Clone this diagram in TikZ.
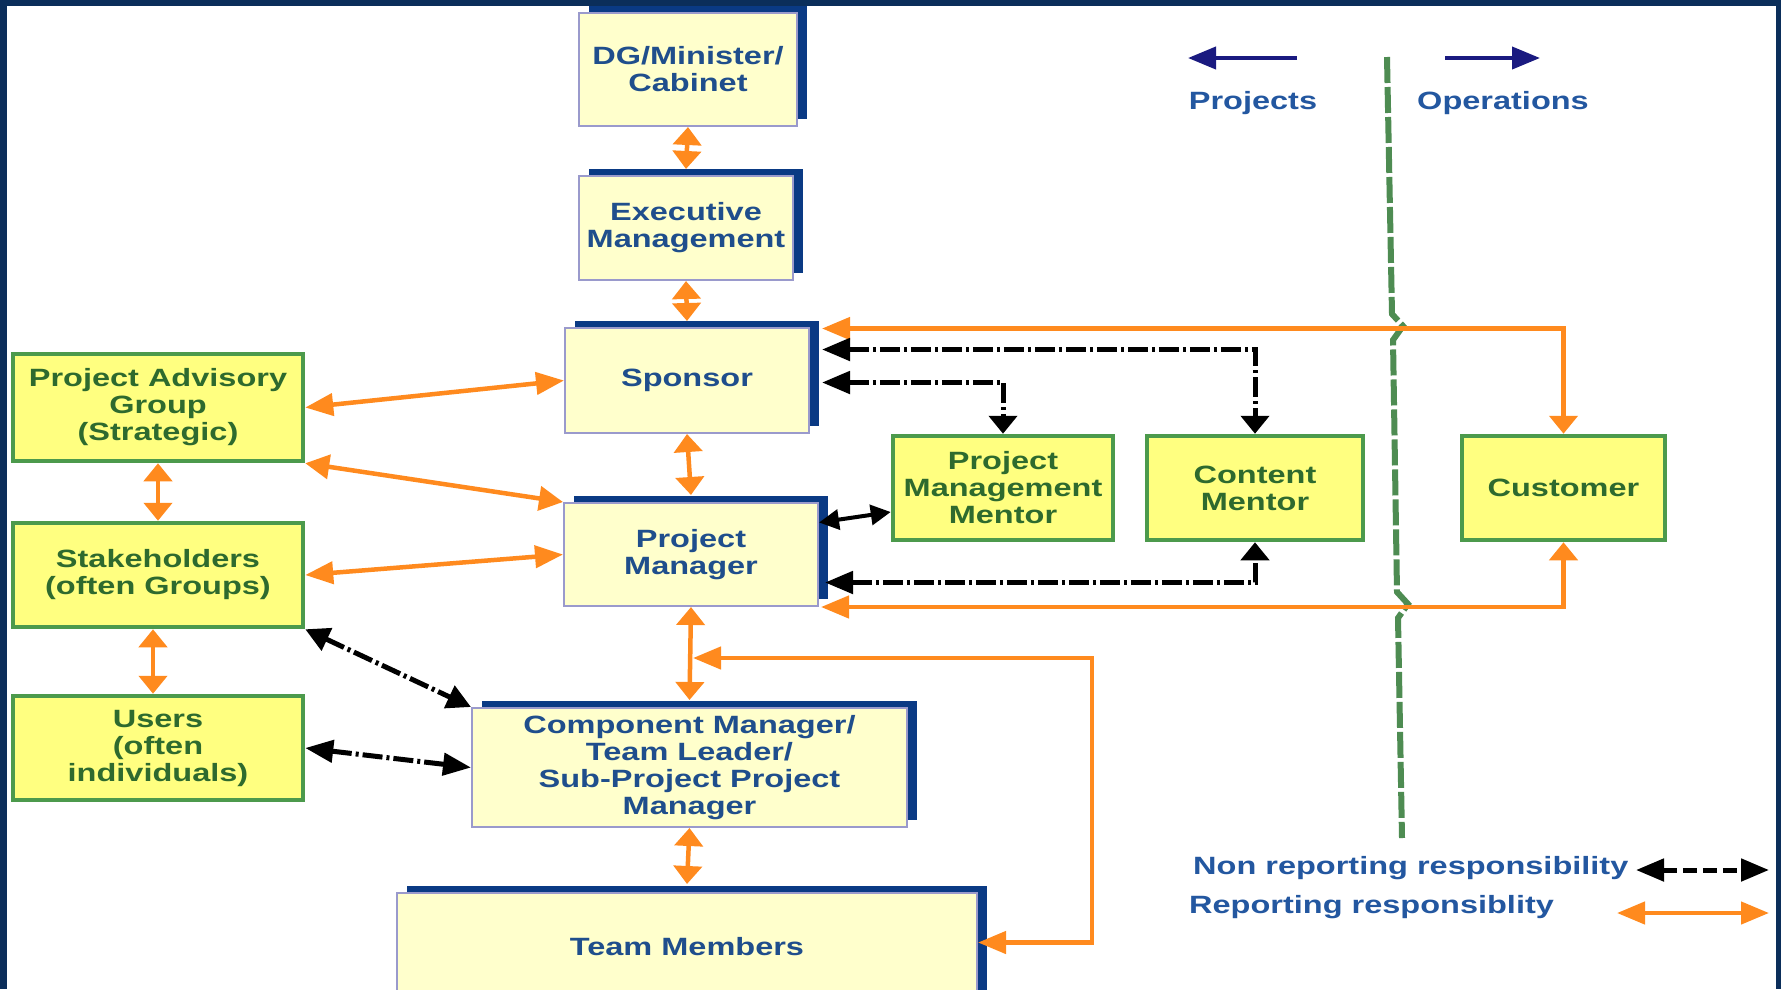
\documentclass[tikz,border=0pt]{standalone}
\usepackage{fontspec}
\setmainfont{Liberation Sans}[FakeStretch=1.3]
\usetikzlibrary{arrows.meta, shadows}

\definecolor{framenavy}{HTML}{0B2E5A}
\definecolor{paleyellow}{HTML}{FFFFCC}
\definecolor{lavender}{HTML}{9A9ACC}
\definecolor{shadowblue}{HTML}{0A3A84}
\definecolor{boxyellow}{HTML}{FFFF80}
\definecolor{boxgreen}{HTML}{4C9A4C}
\definecolor{textblue}{HTML}{1F4E8C}
\definecolor{textgreen}{HTML}{2E6A2E}
\definecolor{legendblue}{HTML}{2357A0}
\definecolor{reportorange}{HTML}{FF8A1E}
\definecolor{dividergreen}{HTML}{4E8C52}
\definecolor{legendnavy}{HTML}{1A1A80}

\tikzset{
	htip/.tip={Triangle[length=28pt,width=22pt]},
	vtip/.tip={Triangle[length=18pt,width=28pt]},
	dtip/.tip={Triangle[length=24pt,width=24pt]},
	stip/.tip={Triangle[length=20pt,width=20pt]},
	boxfont/.style={font=\fontsize{25}{27}\selectfont\bfseries},
	rolebox/.style={boxfont, draw=lavender, line width=2pt, fill=paleyellow, text=textblue, align=center, inner sep=0pt,
		drop shadow={shadow xshift=10pt, shadow yshift=7pt, opacity=1, fill=shadowblue}},
	groupbox/.style={boxfont, draw=boxgreen, line width=4.5pt, fill=boxyellow, text=textgreen, align=center, inner sep=0pt},
	legendtext/.style={boxfont, text=legendblue, inner sep=0pt},
	reporting/.style={draw=reportorange, line width=4.5pt},
	nonreporting/.style={draw=black, line width=5pt, dash pattern=on 20pt off 4pt on 3pt off 4pt},
}

\begin{document}
\begin{tikzpicture}[x=1pt, y=-1pt]
	\useasboundingbox (0,0) rectangle (1781,989);
	\fill[framenavy] (0,0) rectangle (1781,989);
	\fill[white] (7,6) rectangle (1776,989);

	\node[rolebox, minimum width=218pt, minimum height=113pt] (dg) at (688,69.5) {DG/Minister/\\Cabinet};
	\node[rolebox, minimum width=214pt, minimum height=104pt] (exec) at (686,228) {Executive\\Management};
	\node[rolebox, minimum width=244pt, minimum height=105pt] (sponsor) at (687,380.5) {Sponsor};
	\node[rolebox, minimum width=254pt, minimum height=103pt] (pm) at (691,554.5) {Project\\Manager};
	\node[rolebox, minimum width=435pt, minimum height=119pt] (cm) at (689.5,767.5) {Component Manager/\\Team Leader/\\Sub-Project Project\\Manager};
	\node[rolebox, minimum width=580pt, minimum height=107pt] (team) at (687,946.5) {Team Members};

	\node[groupbox, minimum width=290pt, minimum height=107pt] (pag) at (158,407.5) {Project Advisory\\Group\\(Strategic)};
	\node[groupbox, minimum width=290pt, minimum height=104pt] (stake) at (158,575) {Stakeholders\\(often Groups)};
	\node[groupbox, minimum width=290pt, minimum height=104pt] (users) at (158,748) {Users\\(often\\individuals)};
	\node[groupbox, minimum width=220pt, minimum height=104pt] (pmm) at (1003,488) {Project\\Management\\Mentor};
	\node[groupbox, minimum width=216pt, minimum height=104pt] (cmentor) at (1255,488) {Content\\Mentor};
	\node[groupbox, minimum width=203pt, minimum height=104pt] (cust) at (1563.5,488) {Customer};

	\coordinate (divtop) at (1387,57);
	\coordinate (divbottom) at (1402,838);
	\draw[dividergreen, line width=6pt, dash pattern=on 26pt off 4pt]
		(divtop) -- (1392,314) -- (1403,326) -- (1393,340) -- (1397,592) -- (1408,604) -- (1398,618) -- (divbottom);

	\draw[reporting, vtip-vtip] (dg.south) -- ([yshift=6pt]exec.north);
	\draw[reporting, vtip-vtip] (exec.south) -- ([yshift=6pt]sponsor.north);
	\draw[reporting, vtip-vtip] (sponsor.south) -- ([yshift=7pt]pm.north);
	\draw[reporting, vtip-vtip] (pm.south) -- ([yshift=7pt]cm.north);
	\draw[reporting, vtip-vtip] (cm.south) -- ([yshift=8pt]team.north);
	\draw[reporting, htip-htip] (pag.east) -- (sponsor.west);
	\draw[reporting, dtip-dtip] (pag.south east) -- (pm.north west);
	\draw[reporting, htip-htip] (stake.east) -- (pm.west);
	\draw[reporting, vtip-vtip] (pag.south) -- (stake.north);
	\draw[reporting, vtip-vtip] ([xshift=-5pt]stake.south) -- ([xshift=-5pt]users.north);
	\draw[reporting, htip-vtip] ([xshift=12pt,yshift=52pt]sponsor.east) -| (cust.north);
	\draw[reporting, htip-vtip] ([xshift=2pt]pm.south east) -| (cust.south);

	\coordinate (bend) at (1092,658);
	\coordinate (joint) at (693,658);
	\draw[reporting, htip-htip] ([yshift=4pt]team.east) -| (bend) -- (joint);

	\draw[nonreporting, dtip-dtip] (stake.south east) -- (cm.north west);
	\draw[nonreporting, htip-htip] (users.east) -- (cm.west);
	\draw[nonreporting, htip-vtip] ([xshift=12pt,yshift=-2pt]sponsor.east) -| (pmm.north);
	\draw[nonreporting, htip-vtip] ([xshift=12pt,yshift=31pt]sponsor.east) -| (cmentor.north);
	\draw[nonreporting, htip-vtip] ([xshift=6pt,yshift=-28pt]pm.east) -| (cmentor.south);
	\draw[line width=4pt, stip-stip] ([yshift=32pt]pm.east) -- ([yshift=-24pt]pmm.west);

	\node[legendtext] (projects) at (1253,103) {Projects};
	\node[legendtext] (operations) at (1503,103) {Operations};
	\coordinate (projtail) at (1297,58);
	\coordinate (projtip) at (1188,58);
	\coordinate (opstail) at (1445,58);
	\coordinate (opstip) at (1540,58);
	\draw[legendnavy, line width=4pt, -htip] (projtail) -- (projtip);
	\draw[legendnavy, line width=4pt, -htip] (opstail) -- (opstip);

	\node[legendtext, anchor=west] (nonrep) at (1193,868) {Non reporting responsibility};
	\node[legendtext, anchor=west] (rep) at (1189,907) {Reporting responsiblity};
	\coordinate (nonrepleft) at (1636,870);
	\coordinate (nonrepright) at (1769,870);
	\coordinate (repleft) at (1617,913);
	\coordinate (repright) at (1769,913);
	\draw[line width=5pt, dash pattern=on 14pt off 6pt, htip-htip] (nonrepleft) -- (nonrepright);
	\draw[reporting, htip-htip] (repleft) -- (repright);
\end{tikzpicture}
\end{document}
